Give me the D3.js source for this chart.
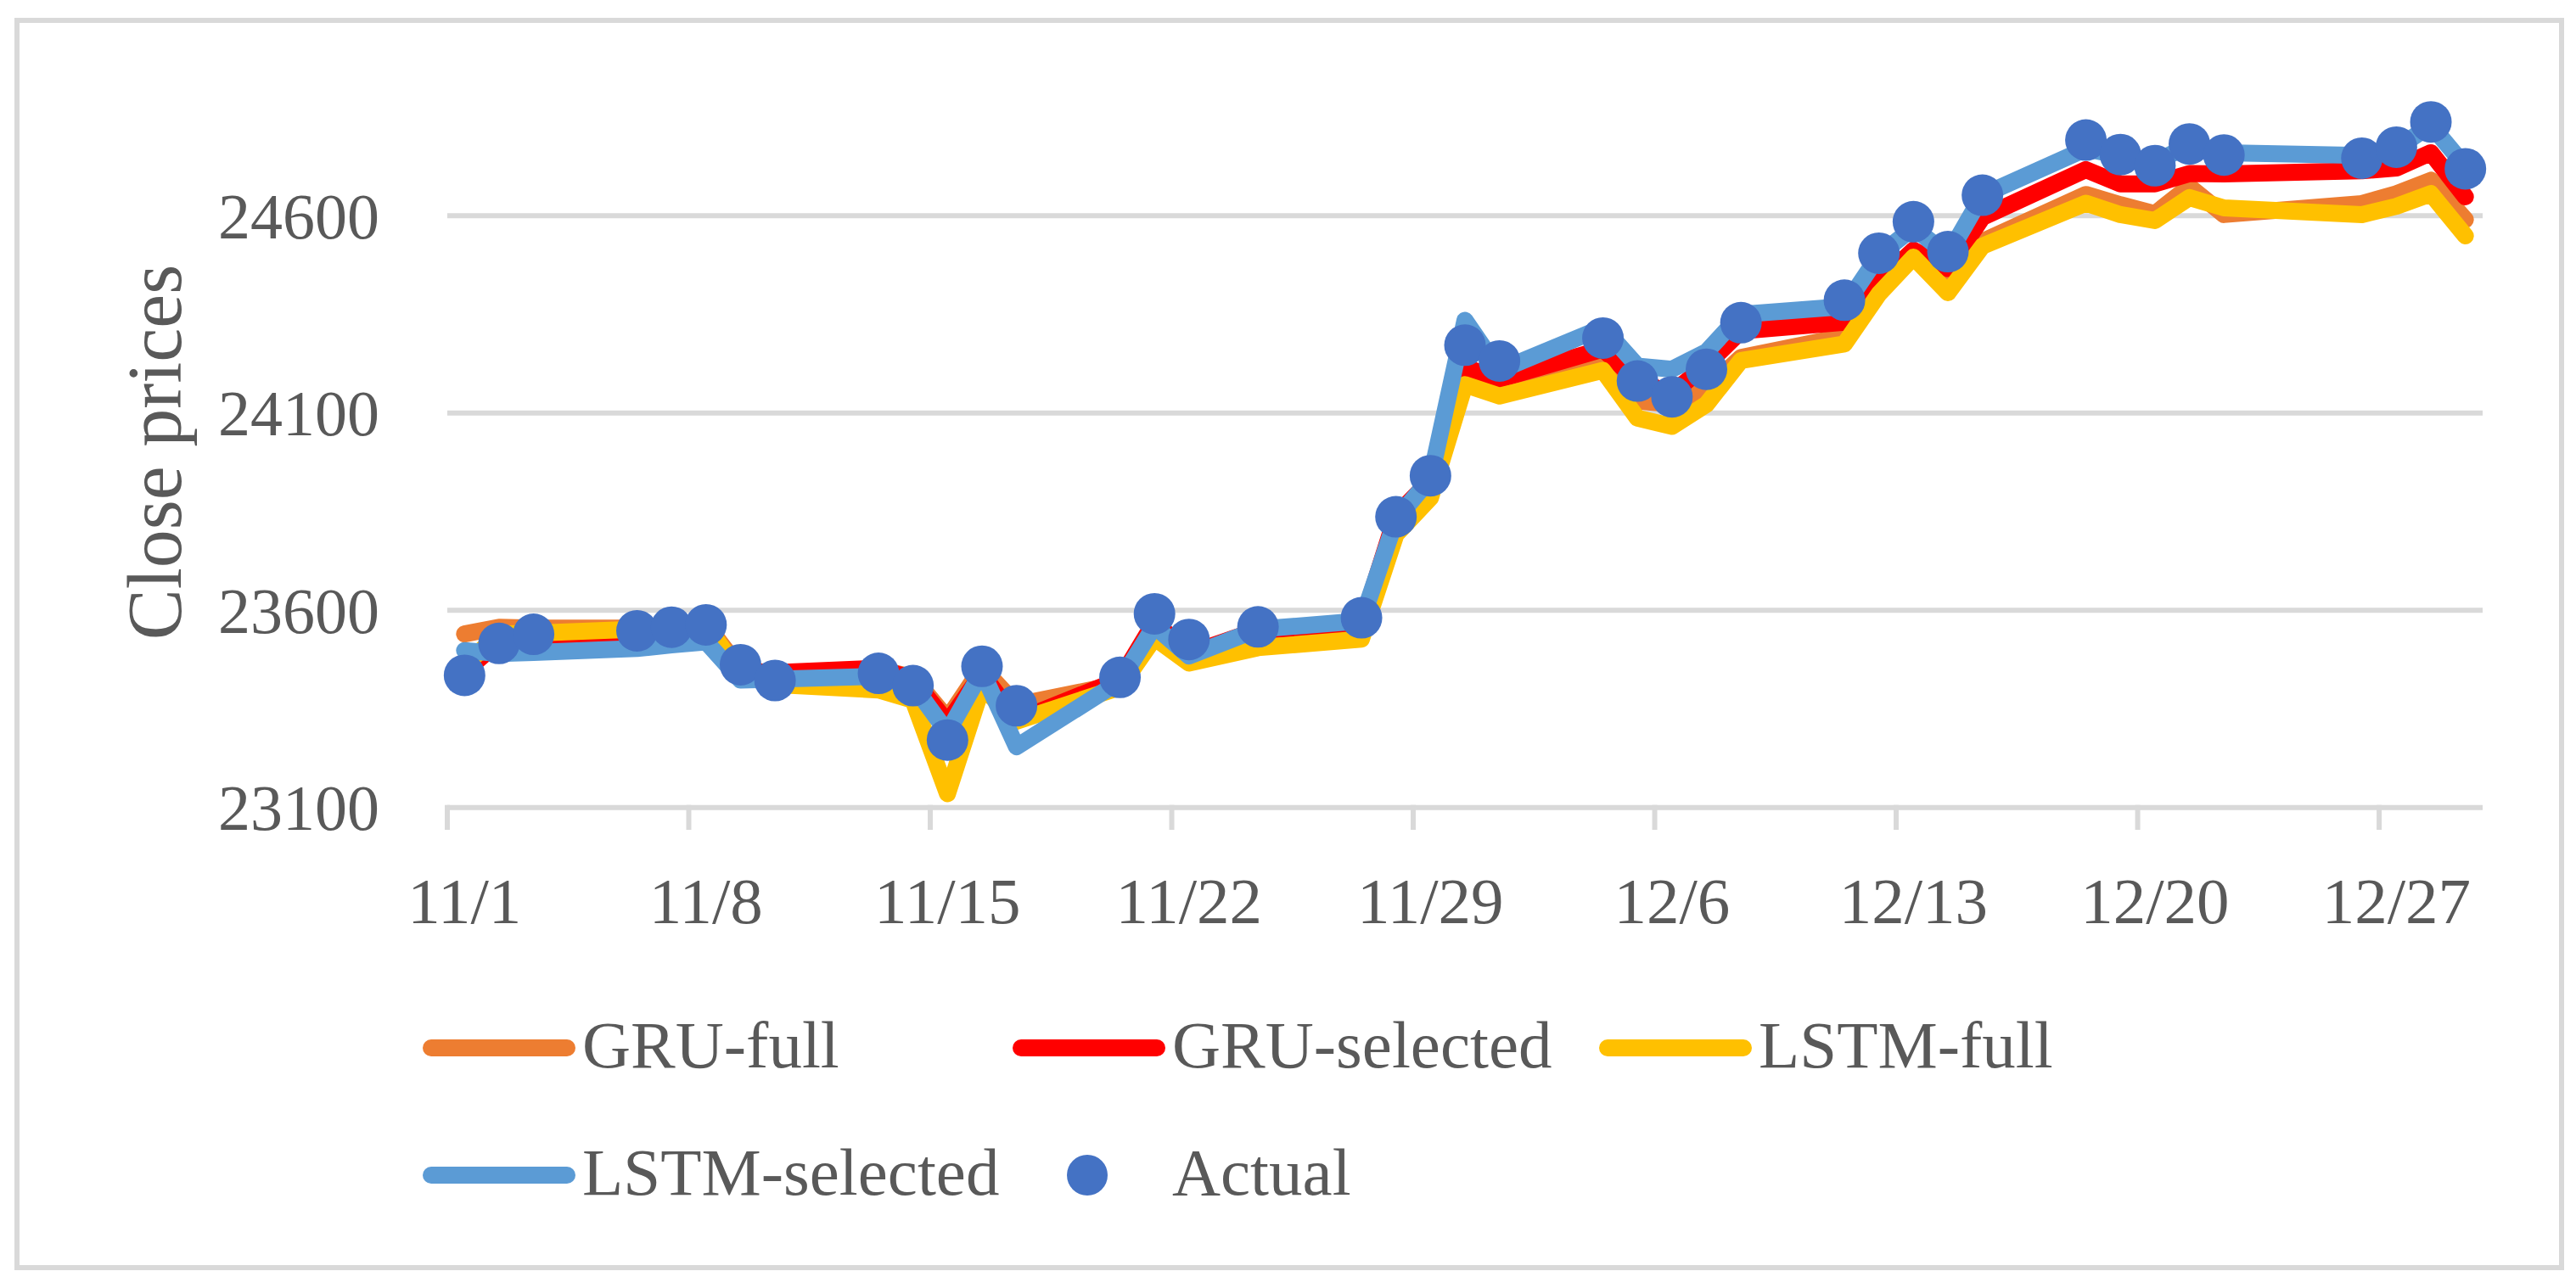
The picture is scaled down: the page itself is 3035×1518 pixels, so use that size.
<!DOCTYPE html>
<html>
<head>
<meta charset="utf-8">
<script src="https://cdnjs.cloudflare.com/ajax/libs/d3/7.8.5/d3.min.js"></script>
<style>
  body { margin: 0; background: #fff; }
  text { font-family: "Liberation Serif", "Times New Roman", serif; fill: #595959; }
</style>
</head>
<body>
<svg id="svg" width="3035" height="1518"></svg>
<script>
// trading days, Nov - Dec
var dates = ["11/1","11/2","11/3","11/6","11/7","11/8","11/9","11/10","11/13","11/14",
  "11/15","11/16","11/17","11/20","11/21","11/22","11/24","11/27","11/28","11/29",
  "11/30","12/1","12/4","12/5","12/6","12/7","12/8","12/11","12/12","12/13",
  "12/14","12/15","12/18","12/19","12/20","12/21","12/22","12/26","12/27","12/28","12/29"];

var actual = [23435,23516,23539,23548,23557,23563,23462,23422,23440,23409,
  23271,23458,23358,23430,23591,23526,23558,23581,23837,23941,
  24272,24232,24290,24181,24141,24211,24329,24386,24505,24585,
  24509,24652,24792,24755,24727,24782,24754,24746,24774,24838,24719];

var gruFull = [23540,23557,23555,23555,23560,23565,23450,23440,23450,23430,
  23325,23455,23360,23413,23560,23480,23530,23545,23800,23900,
  24180,24150,24222,24130,24123,24158,24241,24294,24410,24505,
  24420,24535,24654,24628,24605,24674,24603,24631,24656,24690,24590];

var gruSel = [23445,23520,23527,23540,23545,23550,23445,23442,23453,23425,
  23315,23440,23320,23425,23570,23490,23550,23563,23840,23930,
  24216,24186,24262,24180,24150,24222,24308,24330,24431,24513,
  24466,24596,24717,24681,24681,24707,24706,24714,24721,24760,24648];

var lstmFull = [23460,23540,23542,23552,23558,23562,23440,23412,23398,23372,
  23135,23405,23319,23405,23530,23466,23505,23527,23792,23885,
  24172,24143,24208,24087,24066,24122,24233,24275,24402,24495,
  24405,24523,24632,24603,24588,24646,24620,24603,24624,24656,24549];

var lstmSel = [23498,23490,23493,23503,23512,23520,23423,23425,23433,23410,
  23290,23445,23254,23420,23560,23484,23552,23573,23830,23935,
  24335,24208,24317,24219,24211,24255,24350,24370,24500,24570,
  24500,24652,24770,24752,24735,24780,24760,24753,24770,24830,24725];

var yTicks = [23100, 23600, 24100, 24600];
var xTickLabels = ["11/1","11/8","11/15","11/22","11/29","12/6","12/13","12/20","12/27"];

var series = [
  {name: "GRU-full", values: gruFull, color: "#ED7D31"},
  {name: "GRU-selected", values: gruSel, color: "#FF0000"},
  {name: "LSTM-full", values: lstmFull, color: "#FFC000"},
  {name: "LSTM-selected", values: lstmSel, color: "#5B9BD5"}
];

var svg = d3.select(document.getElementById('svg'));
var parse = function(s){ return d3.utcParse("%Y/%m/%d")("2017/" + s); };
var day = 864e5;

// plot area edges
var plotL = 527, plotR = 2925, plotB = 951.7, plotT = 254.3;

// date axis, one band per day, points sit in the middle of the day
var x = d3.scaleUtc()
  .domain([parse("11/1"), parse("12/30")])
  .range([plotL, plotR]);
var y = d3.scaleLinear()
  .domain([23100, 24600])
  .range([plotB, plotT]);

var xMid = function(s){ return x(new Date(+parse(s) + day / 2)); };

// chart border
svg.append('rect')
  .attr('x', 20).attr('y', 24)
  .attr('width', 2998).attr('height', 1470)
  .attr('fill', 'none')
  .attr('stroke', '#D9D9D9')
  .attr('stroke-width', 6);

// gridlines
svg.append('g').selectAll('line')
  .data(yTicks).enter().append('line')
  .attr('x1', plotL).attr('x2', plotR)
  .attr('y1', function(d){ return y(d); })
  .attr('y2', function(d){ return y(d); })
  .attr('stroke', '#D9D9D9')
  .attr('stroke-width', 6);

// y labels
svg.append('g').selectAll('text')
  .data(yTicks).enter().append('text')
  .attr('x', 447)
  .attr('y', function(d){ return y(d); })
  .attr('dy', '0.35em')
  .attr('text-anchor', 'end')
  .style('font-size', '76px')
  .text(function(d){ return d; });

// x ticks at weekly day boundaries
svg.append('g').selectAll('line')
  .data(xTickLabels).enter().append('line')
  .attr('x1', function(d){ return x(parse(d)); })
  .attr('x2', function(d){ return x(parse(d)); })
  .attr('y1', plotB - 3).attr('y2', 978)
  .attr('stroke', '#D9D9D9')
  .attr('stroke-width', 6);

svg.append('g').selectAll('text')
  .data(xTickLabels).enter().append('text')
  .attr('x', function(d){ return xMid(d); })
  .attr('y', 1088)
  .attr('text-anchor', 'middle')
  .style('font-size', '77px')
  .text(function(d){ return d; });

// axis title
svg.append('text')
  .attr('transform', 'translate(213,533) rotate(-90)')
  .attr('text-anchor', 'middle')
  .style('font-size', '90px')
  .text('Close prices');

// prediction lines
var line = d3.line()
  .x(function(d, i){ return xMid(dates[i]); })
  .y(function(d){ return y(d); });

svg.append('g').selectAll('path')
  .data(series).enter().append('path')
  .attr('d', function(s){ return line(s.values); })
  .attr('fill', 'none')
  .attr('stroke', function(s){ return s.color; })
  .attr('stroke-width', 20)
  .attr('stroke-linejoin', 'round')
  .attr('stroke-linecap', 'round');

// actual closes
svg.append('g').selectAll('circle')
  .data(actual).enter().append('circle')
  .attr('cx', function(d, i){ return xMid(dates[i]); })
  .attr('cy', function(d){ return y(d); })
  .attr('r', 24.5)
  .attr('fill', '#4472C4');

// legend
var legendItems = [
  {name: "GRU-full", color: "#ED7D31", col: 0, row: 0},
  {name: "GRU-selected", color: "#FF0000", col: 1, row: 0},
  {name: "LSTM-full", color: "#FFC000", col: 2, row: 0},
  {name: "LSTM-selected", color: "#5B9BD5", col: 0, row: 1},
  {name: "Actual", color: "#4472C4", col: 1, row: 1, dot: true}
];
var colX = [498, 1193, 1884];
var rowY = [1235, 1385];

var lg = svg.append('g').selectAll('g')
  .data(legendItems).enter().append('g')
  .attr('transform', function(d){ return 'translate(' + colX[d.col] + ',' + rowY[d.row] + ')'; });

lg.filter(function(d){ return !d.dot; }).append('line')
  .attr('x1', 10).attr('x2', 170)
  .attr('stroke', function(d){ return d.color; })
  .attr('stroke-width', 20)
  .attr('stroke-linecap', 'round');

lg.filter(function(d){ return d.dot; }).append('circle')
  .attr('cx', 88).attr('r', 24)
  .attr('fill', function(d){ return d.color; });

lg.append('text')
  .attr('x', 188)
  .attr('y', 23)
  .style('font-size', '79px')
  .text(function(d){ return d.name; });
</script>
</body>
</html>
